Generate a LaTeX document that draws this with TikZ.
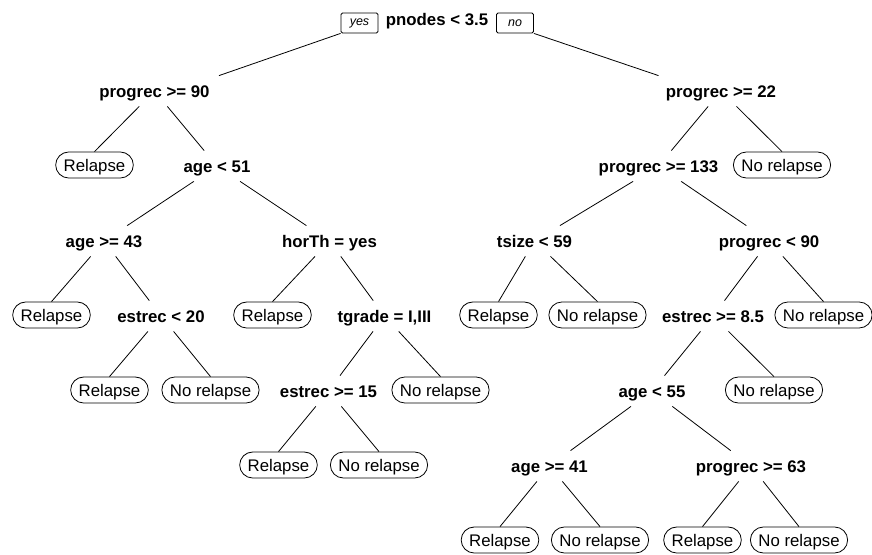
\documentclass[tikz,border=0pt]{standalone}
\usepackage{fontspec}
\setmainfont{Liberation Sans}

\begin{document}
\begin{tikzpicture}[x=1pt, y=-1pt, line width=0.8pt,
    split/.style={font=\fontsize{16.8}{20}\selectfont\bfseries, inner xsep=0pt, minimum height=30pt, text height=12pt, text depth=0pt},
    leaf/.style={draw, fill=white, rounded corners=13pt, minimum height=26pt, inner xsep=8pt, inner ysep=0pt, font=\fontsize{16.8}{20}\selectfont, text height=12pt, text depth=0pt},
    tag/.style={draw, rounded corners=1.5pt, minimum width=37pt, minimum height=20pt, inner sep=0pt, font=\fontsize{12.5}{14}\selectfont\itshape}]
            \useasboundingbox (0,0) rectangle (872,554);
            % Nodos
            \node[split] (pn) at (437,19) {pnodes < 3.5};
            \node[tag] (yes) at (359.5,23) {yes};
            \node[tag] (no) at (515,23) {no};
            \node[split] (p90) at (154.5,91) {progrec >= 90};
            \node[split] (p22) at (721,91) {progrec >= 22};
            \node[leaf] (l1) at (94.5,165) {Relapse};
            \node[split] (a51) at (217,166) {age < 51};
            \node[split] (p133) at (658.5,166) {progrec >= 133};
            \node[leaf] (l2) at (782,165) {No relapse};
            \node[split] (a43) at (104,241) {age >= 43};
            \node[split] (hor) at (329.5,241) {horTh = yes};
            \node[split] (ts) at (534.5,241) {tsize < 59};
            \node[split] (pl90) at (769,241) {progrec < 90};
            \node[leaf] (l3) at (51.5,315) {Relapse};
            \node[split] (e20) at (161,316) {estrec < 20};
            \node[leaf] (l4) at (272.5,315) {Relapse};
            \node[split] (tg) at (384.5,316) {tgrade = I,III};
            \node[leaf] (l5) at (498.5,315) {Relapse};
            \node[leaf] (l6) at (597.5,315) {No relapse};
            \node[split] (e85) at (713,316) {estrec >= 8.5};
            \node[leaf] (l7) at (823.5,315) {No relapse};
            \node[leaf] (l8) at (109.5,390) {Relapse};
            \node[leaf] (l9) at (210.5,390) {No relapse};
            \node[split] (e15) at (328.5,391) {estrec >= 15};
            \node[leaf] (l10) at (440.5,390) {No relapse};
            \node[split] (a55) at (652,391) {age < 55};
            \node[leaf] (l11) at (774,390) {No relapse};
            \node[leaf] (l12) at (278.5,465) {Relapse};
            \node[leaf] (l13) at (379,465) {No relapse};
            \node[split] (a41) at (549.5,466) {age >= 41};
            \node[split] (p63) at (751,466) {progrec >= 63};
            \node[leaf] (l14) at (500,540) {Relapse};
            \node[leaf] (l15) at (600,540) {No relapse};
            \node[leaf] (l16) at (702.5,540) {Relapse};
            \node[leaf] (l17) at (799,540) {No relapse};

            % Ramas
            \draw (yes.south west) -- ([xshift=9pt]p90.north east);
            \draw (no.south east) -- ([xshift=-7pt]p22.north west);
            \draw (p90) -- (l1.north);
            \draw (p90) -- (a51);
            \draw (p22) -- (p133);
            \draw (p22) -- (l2.north);
            \draw (a51) -- (a43);
            \draw (a51) -- (hor);
            \draw (p133) -- (ts);
            \draw (p133) -- (pl90);
            \draw (a43) -- (l3.north);
            \draw (a43) -- (e20);
            \draw (hor) -- (l4.north);
            \draw (hor) -- (tg);
            \draw (ts) -- (l5.north);
            \draw (ts) -- (l6.north);
            \draw (pl90) -- (e85);
            \draw (pl90) -- (l7.north);
            \draw (e20) -- (l8.north);
            \draw (e20) -- (l9.north);
            \draw (tg) -- (e15);
            \draw (tg) -- (l10.north);
            \draw (e85) -- (a55);
            \draw (e85) -- (l11.north);
            \draw (e15) -- (l12.north);
            \draw (e15) -- (l13.north);
            \draw (a55) -- (a41);
            \draw (a55) -- (p63);
            \draw (a41) -- (l14.north);
            \draw (a41) -- (l15.north);
            \draw (p63) -- (l16.north);
            \draw (p63) -- (l17.north);
          \end{tikzpicture}
\end{document}
